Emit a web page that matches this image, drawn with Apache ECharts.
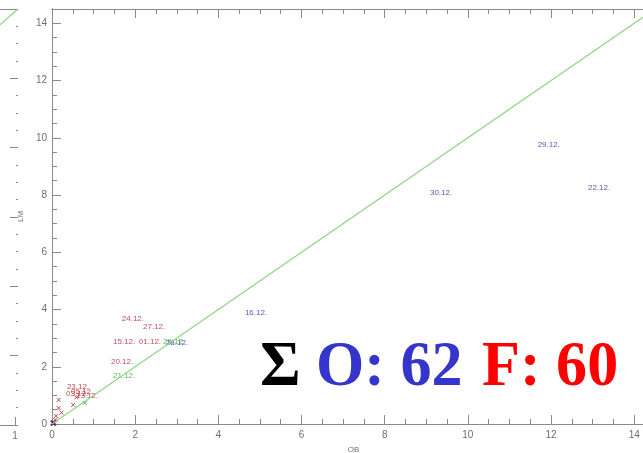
<!DOCTYPE html>
<html>
<head>
<meta charset="utf-8">
<script src="https://cdn.jsdelivr.net/npm/echarts@6/dist/echarts.min.js"></script>
<style>
  html, body { margin: 0; padding: 0; background: #fff; }
  #chart { width: 643px; height: 453px; }
</style>
</head>
<body>
<div id="chart"></div>
<script>
// date labels, one array per colour (OB on x, LM on y)
const redNames = ['24.12.', '27.12.', '15.12.', '01.12.', '20.12.', '23.12.', '03.12.', '05.12.', '13.12.'];
const redX = [1.69, 2.20, 1.48, 2.10, 1.43, 0.37, 0.35, 0.47, 0.59];
const redY = [3.52, 3.24, 2.71, 2.71, 2.01, 1.14, 0.89, 0.96, 0.82];

const blueNames = ['16.12.', '30.12.', '29.12.', '22.12.', '28.12.'];
const blueX = [4.65, 9.10, 11.69, 12.90, 2.75];
const blueY = [3.73, 7.92, 9.60, 8.10, 2.68];

const greenNames = ['21.12.', '26.12.'];
const greenX = [1.48, 2.68];
const greenY = [1.52, 2.71];

// unlabelled points (x markers)
const redMarkX = [0.16, 0.16, 0.23, 0.10, 0.51, 0.59, 0.08, 0.05];
const redMarkY = [0.84, 0.56, 0.40, 0.28, 0.67, 0.93, 0.14, 0.06];
const greenMarkX = [0.79];
const greenMarkY = [0.74];
const blueMarkX = [0.03];
const blueMarkY = [0.03];

// 1:1 line
const refX = [0, 14.5];
const refY = [0, 14.5];

// neighbouring panel, only its right edge is visible
const leftRefX = [0, 1.01];
const leftRefY = [2.2, 6.0];

// totals
const totalO = 62;
const totalF = 60;

const zip = (xs, ys) => xs.map((x, i) => [x, ys[i]]);
const named = (names, xs, ys) => names.map((n, i) => ({ name: n, value: [xs[i], ys[i]] }));

const axisColor = '#8a8a8a';
const labelColor = '#6e6e6e';
const red = '#b01e2a';
const blue = '#2a2aa6';
const green = '#2aae2a';
const xPath = 'path://M0,0L10,10M10,0L0,10';

function valAxis(extra) {
  return Object.assign({
    type: 'value',
    splitLine: { show: false },
    axisLine: { show: true, onZero: false, lineStyle: { color: axisColor, width: 1 } },
    axisTick: { show: true, inside: true, length: 9, lineStyle: { color: axisColor } },
    axisLabel: { show: false }
  }, extra);
}

const majorLabel = { show: true, color: labelColor, fontSize: 10, fontFamily: 'Liberation Sans', showMaxLabel: false };
const bigFont = 'bold 64px "Liberation Serif"';

const chart = echarts.init(document.getElementById('chart'), null, { renderer: 'canvas' });

chart.setOption({
  animation: false,
  grid: [
    { left: 52, top: 9, width: 603, height: 415, outerBoundsMode: 'none', containLabel: false },
    { left: -282, top: 9, width: 300, height: 416, outerBoundsMode: 'none', containLabel: false }
  ],
  xAxis: [
    valAxis({ gridIndex: 0, min: 0, max: 14.5, interval: 2, position: 'bottom',
      axisLabel: Object.assign({}, majorLabel, { margin: 6 }),
      name: 'OB', nameLocation: 'middle', nameGap: 22,
      nameTextStyle: { color: labelColor, fontSize: 8, fontFamily: 'Liberation Sans' } }),
    valAxis({ gridIndex: 0, min: 0, max: 14.5, interval: 0.5, position: 'bottom',
      axisTick: { show: true, inside: true, length: 5, lineStyle: { color: axisColor } } }),
    valAxis({ gridIndex: 0, min: 0, max: 14.5, interval: 2, position: 'top' }),
    valAxis({ gridIndex: 0, min: 0, max: 14.5, interval: 0.5, position: 'top',
      axisTick: { show: true, inside: true, length: 5, lineStyle: { color: axisColor } } }),
    valAxis({ gridIndex: 1, min: 0, max: 1.01, interval: 0.5, position: 'bottom',
      axisTick: { show: true, inside: true, length: 8, lineStyle: { color: axisColor } },
      axisLabel: Object.assign({}, majorLabel, { margin: 6 }) }),
    valAxis({ gridIndex: 1, min: 0, max: 1.01, interval: 0.5, position: 'top',
      axisTick: { show: false } })
  ],
  yAxis: [
    valAxis({ gridIndex: 0, min: 0, max: 14.5, interval: 2, position: 'left',
      axisLabel: Object.assign({}, majorLabel, { margin: 5 }),
      name: 'LM', nameLocation: 'middle', nameGap: 17,
      nameTextStyle: { color: labelColor, fontSize: 8, fontFamily: 'Liberation Sans' } }),
    valAxis({ gridIndex: 0, min: 0, max: 14.5, interval: 0.5, position: 'left',
      axisTick: { show: true, inside: true, length: 5, lineStyle: { color: axisColor } } }),
    valAxis({ gridIndex: 0, min: 0, max: 14.5, interval: 2, position: 'right',
      axisTick: { show: true, inside: true, length: 12, lineStyle: { color: axisColor } } }),
    valAxis({ gridIndex: 0, min: 0, max: 14.5, interval: 0.5, position: 'right',
      axisTick: { show: true, inside: true, length: 6, lineStyle: { color: axisColor } } }),
    valAxis({ gridIndex: 1, min: 0, max: 6, interval: 1, position: 'right',
      axisLine: { show: false, onZero: false },
      axisTick: { show: true, inside: true, length: 8, lineStyle: { color: axisColor } },
      minorTick: { show: true, splitNumber: 4, length: 2, lineStyle: { color: axisColor } } })
  ],
  series: [
    {
      type: 'line', xAxisIndex: 0, yAxisIndex: 0, data: zip(refX, refY),
      symbol: 'none', silent: true, clip: true,
      lineStyle: { color: '#8fd386', width: 1.2 }
    },
    {
      type: 'line', xAxisIndex: 4, yAxisIndex: 4, data: zip(leftRefX, leftRefY),
      symbol: 'none', silent: true, clip: true,
      lineStyle: { color: '#8fd386', width: 1.2 }
    },
    {
      type: 'scatter', xAxisIndex: 0, yAxisIndex: 0, data: zip(redMarkX, redMarkY),
      symbol: xPath, symbolSize: 4,
      itemStyle: { color: 'rgba(0,0,0,0)', borderColor: red, borderWidth: 1 }
    },
    {
      type: 'scatter', xAxisIndex: 0, yAxisIndex: 0, data: zip(greenMarkX, greenMarkY),
      symbol: xPath, symbolSize: 4,
      itemStyle: { color: 'rgba(0,0,0,0)', borderColor: green, borderWidth: 1 }
    },
    {
      type: 'scatter', xAxisIndex: 0, yAxisIndex: 0, data: zip(blueMarkX, blueMarkY),
      symbol: xPath, symbolSize: 5,
      itemStyle: { color: 'rgba(0,0,0,0)', borderColor: '#331144', borderWidth: 2 }
    },
    ...[[redNames, redX, redY, red], [greenNames, greenX, greenY, green], [blueNames, blueX, blueY, blue]]
      .map(([n, xs, ys, c]) => ({
        type: 'scatter', xAxisIndex: 0, yAxisIndex: 0,
        data: named(n, xs, ys),
        symbolSize: 1,
        itemStyle: { color: 'rgba(0,0,0,0)' },
        label: {
          show: true, formatter: '{b}', position: [0, 0],
          align: 'left', verticalAlign: 'bottom',
          color: c, fontSize: 8, fontFamily: 'Liberation Sans'
        }
      }))
  ],
  graphic: [
    { type: 'text', x: 260, y: 368, scaleX: 0.97, z: 100,
      style: { text: 'Σ', fill: '#000', font: bigFont, verticalAlign: 'middle' } },
    { type: 'text', x: 316, y: 368, scaleX: 0.97, z: 100,
      style: { text: 'O: ' + totalO, fill: '#3535cc', font: bigFont, verticalAlign: 'middle' } },
    { type: 'text', x: 482, y: 368, scaleX: 0.97, z: 100,
      style: { text: 'F: ' + totalF, fill: '#ff0000', font: bigFont, verticalAlign: 'middle' } }
  ]
});
</script>
</body>
</html>
